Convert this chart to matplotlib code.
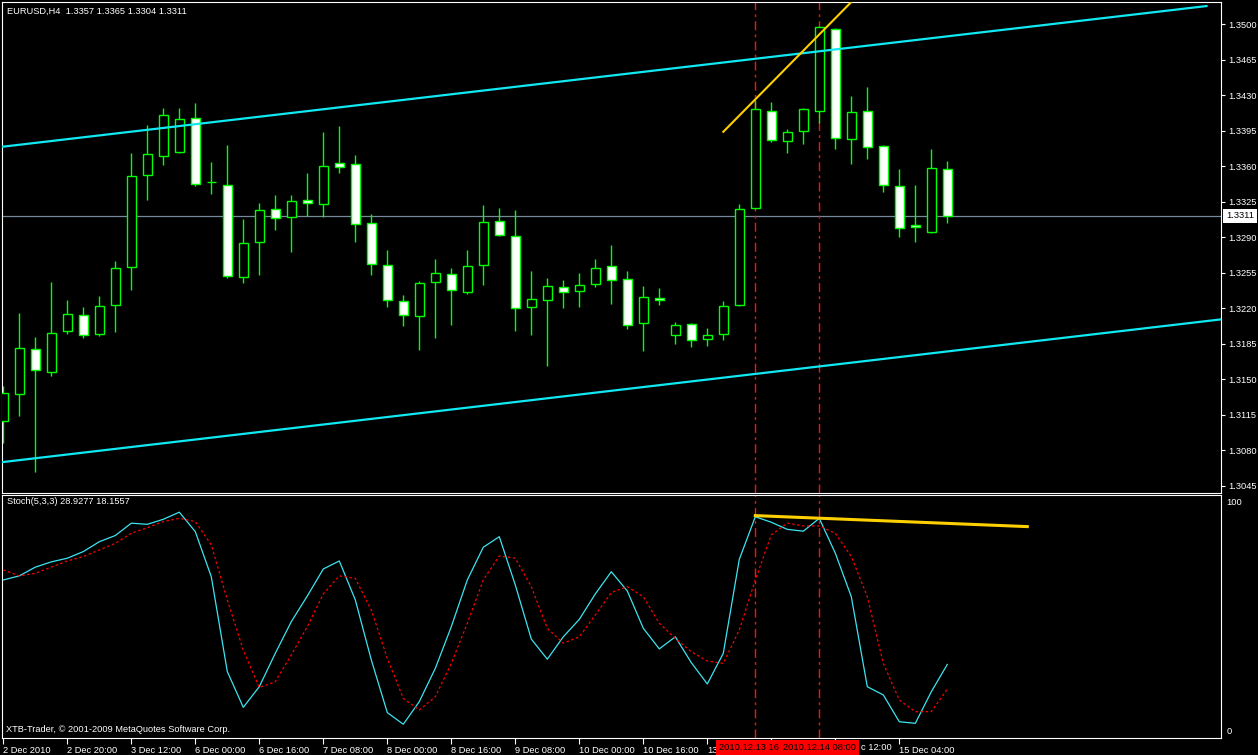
import matplotlib.pyplot as plt

W, H = 1258, 755

# EURUSD H4 candles (bar index 0..59)
opens = [1.3109, 1.3135, 1.3180, 1.3157, 1.3198, 1.3213, 1.3195, 1.3223, 1.3261, 1.3351,
         1.3370, 1.3374, 1.3408, 1.3344, 1.3342, 1.3251, 1.3285, 1.3318, 1.3310, 1.3327,
         1.3323, 1.3363, 1.3362, 1.3304, 1.3263, 1.3227, 1.3212, 1.3246, 1.3254, 1.3236,
         1.3263, 1.3306, 1.3291, 1.3221, 1.3228, 1.3241, 1.3237, 1.3244, 1.3262, 1.3249,
         1.3205, 1.3230, 1.3194, 1.3204, 1.3190, 1.3195, 1.3223, 1.3319, 1.3415, 1.3385,
         1.3395, 1.3415, 1.3495, 1.3387, 1.3415, 1.3380, 1.3341, 1.3302, 1.3295, 1.3357]
highs = [1.3143, 1.3215, 1.3192, 1.3246, 1.3228, 1.3221, 1.3232, 1.3267, 1.3373, 1.3401,
         1.3417, 1.3417, 1.3422, 1.3364, 1.3381, 1.3308, 1.3324, 1.3332, 1.3332, 1.3353,
         1.3394, 1.3400, 1.3371, 1.3313, 1.3277, 1.3233, 1.3247, 1.3269, 1.3260, 1.3277,
         1.3322, 1.3319, 1.3317, 1.3257, 1.3250, 1.3248, 1.3255, 1.3269, 1.3282, 1.3257,
         1.3242, 1.3240, 1.3206, 1.3205, 1.3201, 1.3227, 1.3323, 1.3425, 1.3423, 1.3397,
         1.3417, 1.3498, 1.3496, 1.3429, 1.3438, 1.3381, 1.3357, 1.3342, 1.3377, 1.3365]
lows = [1.3087, 1.3114, 1.3059, 1.3153, 1.3195, 1.3191, 1.3193, 1.3197, 1.3238, 1.3327,
        1.3361, 1.3373, 1.3341, 1.3333, 1.3250, 1.3245, 1.3253, 1.3297, 1.3275, 1.3311,
        1.3310, 1.3353, 1.3285, 1.3253, 1.3221, 1.3202, 1.3179, 1.3191, 1.3203, 1.3234,
        1.3243, 1.3291, 1.3198, 1.3194, 1.3163, 1.3220, 1.3221, 1.3241, 1.3224, 1.3200,
        1.3178, 1.3223, 1.3185, 1.3182, 1.3183, 1.3189, 1.3222, 1.3318, 1.3384, 1.3373,
        1.3382, 1.3403, 1.3377, 1.3362, 1.3367, 1.3335, 1.3290, 1.3285, 1.3294, 1.3304]
closes = [1.3136, 1.3181, 1.3159, 1.3196, 1.3214, 1.3194, 1.3222, 1.3260, 1.3350, 1.3372,
          1.3411, 1.3407, 1.3343, 1.3344, 1.3252, 1.3284, 1.3317, 1.3309, 1.3326, 1.3324,
          1.3360, 1.3359, 1.3303, 1.3264, 1.3228, 1.3213, 1.3245, 1.3255, 1.3238, 1.3262,
          1.3305, 1.3292, 1.3220, 1.3229, 1.3242, 1.3236, 1.3243, 1.3260, 1.3248, 1.3203,
          1.3231, 1.3228, 1.3203, 1.3189, 1.3194, 1.3222, 1.3318, 1.3416, 1.3386, 1.3394,
          1.3416, 1.3497, 1.3388, 1.3414, 1.3379, 1.3342, 1.3299, 1.3300, 1.3358, 1.3311]

# Stochastic(5,3,3)
stoch_k = [65.8, 67.6, 71.4, 73.7, 75.3, 78.2, 82.5, 85.2, 90.6, 90.1,
           92.3, 95.4, 86.9, 67.2, 25.8, 10.2, 19.2, 33.8, 47.6, 58.8,
           70.6, 74.1, 57.1, 30.9, 7.9, 2.8, 12.7, 27.2, 45.4, 65.8,
           80.1, 84.7, 63.6, 40.0, 31.2, 41.0, 48.6, 59.7, 69.4, 61.0,
           44.7, 35.7, 41.0, 29.7, 20.4, 33.8, 74.8, 93.4, 91.0, 87.9,
           87.1, 92.7, 77.5, 58.5, 19.2, 15.6, 3.9, 3.2, 17.0, 28.93]
stoch_d = [70.2, 67.6, 68.7, 71.4, 74.1, 76.0, 78.9, 81.8, 86.2, 88.6,
           91.3, 92.7, 91.3, 81.1, 57.1, 35.2, 18.8, 21.4, 33.1, 45.4,
           59.7, 67.6, 66.5, 52.7, 31.6, 14.1, 9.0, 14.8, 29.4, 46.9,
           65.8, 76.3, 75.3, 62.9, 44.7, 38.2, 41.0, 50.5, 60.3, 62.9,
           58.5, 46.9, 40.3, 34.5, 30.4, 29.4, 44.0, 65.8, 85.5, 90.6,
           89.4, 89.4, 86.2, 76.0, 58.5, 29.4, 13.4, 8.3, 8.3, 18.16]

# drawn objects
upper_channel = ([-0.2, 75.2], [1.3379, 1.3518])
lower_channel = ([-0.2, 76.1], [1.3068, 1.3209])
price_trend = ([45.0, 53.5], [1.3394, 1.3530])
stoch_trend = ([47.0, 64.0], [93.9, 89.1])
vline_bars = [47, 51]
vline_labels = ['2010.12.13 16', '2010.12.14 08:00']  # first one is half hidden
last_price = 1.3311

price_ticks = [1.3045, 1.3080, 1.3115, 1.3150, 1.3185, 1.3220, 1.3255,
               1.3290, 1.3325, 1.3360, 1.3395, 1.3430, 1.3465, 1.3500]
time_tick_bars = [0, 4, 8, 12, 16, 20, 24, 28, 32, 36, 40, 44, 48, 52, 56]
# labels under the red vline boxes are only partly visible
time_tick_labels = ['2 Dec 2010', '2 Dec 20:00', '3 Dec 12:00', '6 Dec 00:00',
                    '6 Dec 16:00', '7 Dec 08:00', '8 Dec 00:00', '8 Dec 16:00',
                    '9 Dec 08:00', '10 Dec 00:00', '10 Dec 16:00', '13',
                    '', '', '15 Dec 04:00']

plt.rcParams['font.family'] = ['Liberation Sans', 'DejaVu Sans']
FS = 6.7
GREEN = '#00FF00'
CYAN = '#10E8F2'


def pix_axes(l, t, r, b):
    a = fig.add_axes([l / W, 1 - b / H, (r - l) / W, (b - t) / H])
    a.set_facecolor('black')
    for s in a.spines.values():
        s.set_color('white')
        s.set_linewidth(0.8)
    return a


fig = plt.figure(figsize=(W / 100, H / 100), dpi=100, facecolor='black')
ax = pix_axes(2, 2, 1221, 493)
ax2 = pix_axes(2, 495, 1221, 738)

xmin, xmax = (2 - 3.3) / 16, (1221 - 3.3) / 16
bars = list(range(len(opens)))

# candles
ax.vlines(bars, lows, highs, color=GREEN, lw=1.0, zorder=2)
for i in bars:
    o, c = opens[i], closes[i]
    fc = 'black' if c > o else 'white'
    ax.bar(i, abs(c - o), bottom=min(o, c), width=0.6, color=fc,
           edgecolor=GREEN, linewidth=1.0, zorder=3)

ax.plot(*upper_channel, color=CYAN, lw=1.6, zorder=4)
ax.plot(*lower_channel, color=CYAN, lw=1.6, zorder=4)
ax.plot(*price_trend, color='#FFD000', lw=1.5, zorder=4)
ax.axhline(last_price, color='#778899', lw=0.9, zorder=1)

for a in (ax, ax2):
    for b in vline_bars:
        a.axvline(b, color='#FF1010', lw=1.0, ls=(0, (6.5, 3, 2, 3)), zorder=1)
    a.set_xlim(xmin, xmax)

ax.set_ylim(1.30378, 1.35220)
ax.set_xticks([])
ax.yaxis.tick_right()
ax.set_yticks(price_ticks)
ax.set_yticklabels([f'{p:.4f}' for p in price_ticks])
ax.tick_params(axis='y', colors='white', length=3, width=0.8, pad=2, labelsize=FS)

ax.text(1.0041, last_price, f'{last_price:.4f}', transform=ax.get_yaxis_transform(),
        ha='left', va='center', fontsize=FS, color='black', clip_on=False,
        bbox=dict(boxstyle='square,pad=0.3', fc='white', ec='none'))

# stochastic
ax2.plot(bars, stoch_k, color='#3CE4F0', lw=0.9, zorder=3)
ax2.plot(bars, stoch_d, color='#FF0000', lw=0.9, ls=(0, (2, 2)), zorder=3)
ax2.plot(*stoch_trend, color='#FFD000', lw=2.2, zorder=4)
ax2.set_ylim(-3.2, 102.9)
ax2.yaxis.tick_right()
ax2.set_yticks([0, 100])
ax2.set_yticklabels(['0', '100'])
ax2.tick_params(axis='y', colors='white', length=0, pad=4, labelsize=FS)
ax2.set_xticks(time_tick_bars)
ax2.set_xticklabels(time_tick_labels, ha='left')
ax2.tick_params(axis='x', colors='white', length=4, width=0.8, pad=1.5, labelsize=FS)

# text overlays
fig.text(7 / W, 1 - 11 / H, 'EURUSD,H4  1.3357 1.3365 1.3304 1.3311',
         color='white', fontsize=FS, va='center')
fig.text(7 / W, 1 - 502 / H, 'Stoch(5,3,3) 28.9277 18.1557',
         color='white', fontsize=FS, va='center')
fig.text(6 / W, 1 - 730 / H, 'XTB-Trader, © 2001-2009 MetaQuotes Software Corp.',
         color='white', fontsize=FS, va='center')
# tail of the "14 Dec 12:00" tick label that shows right of the red box
fig.text(861 / W, 1 - 747.5 / H, 'c 12:00', color='white', fontsize=FS, va='center')

# red vline time boxes: first starts at 715 px, second is centred on its line
fig.text(719 / W, 1 - 747.5 / H, vline_labels[0], color='black', fontsize=FS,
         ha='left', va='center',
         bbox=dict(boxstyle='square,pad=0.3', fc='#FF0000', ec='none'))
fig.text((3.3 + 16 * vline_bars[1]) / W, 1 - 747.5 / H, vline_labels[1], color='black',
         fontsize=FS, ha='center', va='center',
         bbox=dict(boxstyle='square,pad=0.3', fc='#FF0000', ec='none'))

fig.savefig('out.png', dpi=100, facecolor='black')
